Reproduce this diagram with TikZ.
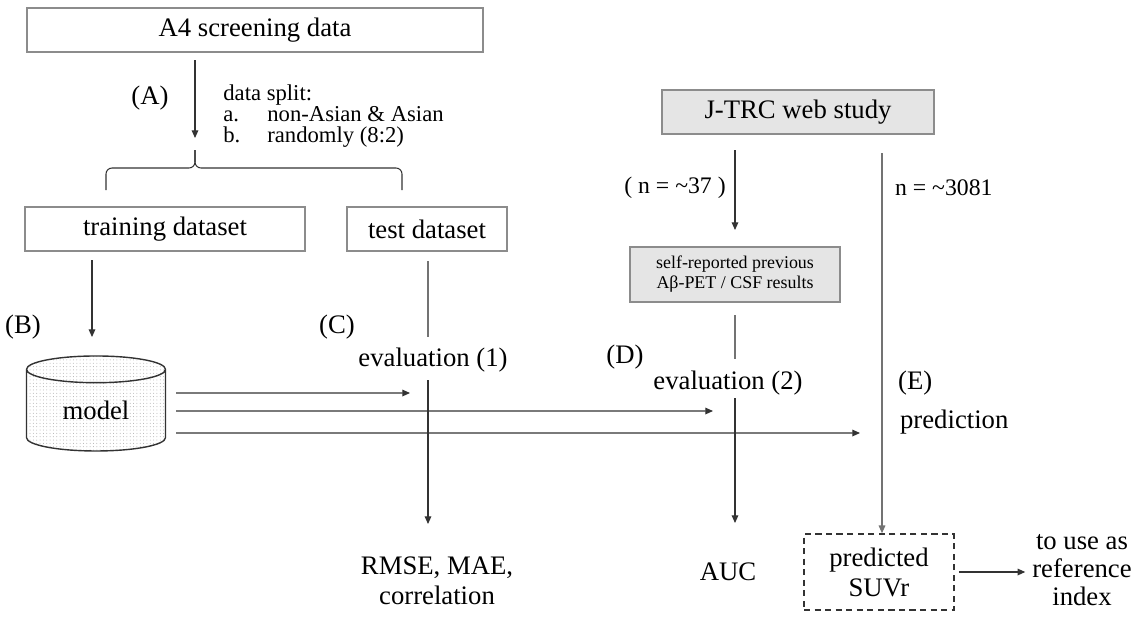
\documentclass[tikz,border=0pt]{standalone}
\usepackage{fontspec}
\setmainfont{Liberation Serif}
\usetikzlibrary{positioning, arrows.meta, calc, shapes.geometric, patterns.meta}
\newcommand{\mainsz}{\fontsize{15.2}{17}\selectfont}
\newcommand{\midsz}{\fontsize{12.9}{11.4}\selectfont}
\newcommand{\countsz}{\fontsize{13.5}{15}\selectfont}
\newcommand{\boxsz}{\fontsize{10.2}{11.3}\selectfont}
\definecolor{boxline}{gray}{0.55}
\definecolor{boxfill}{gray}{0.90}
\definecolor{flowcol}{gray}{0.20}
\tikzset{
  stagebox/.style={rectangle, draw=boxline, line width=0.8pt,
                   minimum height=0.88cm, inner sep=2pt, font=\mainsz},
  greybox/.style={stagebox, fill=boxfill},
  resultbox/.style={rectangle, draw=flowcol, line width=0.9pt,
                    dash pattern=on 3.5pt off 2.5pt, align=center,
                    minimum width=3.0cm, minimum height=1.52cm, font=\mainsz},
  dbnode/.style={cylinder, shape border rotate=90, aspect=0.4, draw=flowcol,
                 line width=0.8pt, minimum width=2.78cm, minimum height=1.9cm,
                 pattern={Dots[radius=0.28pt, distance=1.9pt]},
                 pattern color=black!32, font=\mainsz, inner sep=0pt},
  lbl/.style={font=\mainsz, align=center, inner sep=1pt},
  note/.style={font=\countsz, inner sep=1pt},
  arr/.style={-{Triangle[length=4.4pt, width=3.8pt]}, line width=0.6pt, flowcol},
  plain line/.style={line width=0.6pt, black!55},
  grey arr/.style={arr, black!55},
}
\begin{document}
\begin{tikzpicture}
    \useasboundingbox (0,0) rectangle (22.74,-12.34);

    % A4 branch
    \node[stagebox, minimum width=9.12cm] (a4) at (5.10,-0.60) {A4 screening data};
    \coordinate (a4out) at (3.90,-1.20);
    \coordinate (splitin) at (3.90,-2.76);
    \draw[arr] (a4out) -- (splitin);
    \node[lbl] (labA) at (3.00,-1.96) {(A)};
    \node[font=\midsz, anchor=north west, inner sep=0pt] (split) at (4.46,-1.68)
        {\begin{tabular}{@{}p{0.88cm}@{}l@{}}
         \multicolumn{2}{@{}l@{}}{data split:}\\
         a. & non-Asian \& Asian\\
         b. & randomly (8:2)
         \end{tabular}};

    % brace
    \draw[line width=0.6pt, flowcol, rounded corners=0.12cm] (2.12,-3.80) -- (2.12,-3.36) -- (3.90,-3.36) -- (3.90,-3.00);
    \draw[line width=0.6pt, flowcol, rounded corners=0.12cm] (3.90,-3.00) -- (3.90,-3.36) -- (8.04,-3.36) -- (8.04,-3.80);

    \node[stagebox, minimum width=5.60cm] (train) at (3.30,-4.58) {training dataset};
    \node[stagebox, minimum width=3.20cm] (test) at (8.54,-4.58) {test dataset};

    \coordinate (trainout) at (1.84,-5.20);
    \coordinate (modelin) at (1.84,-6.74);
    \draw[arr] (trainout) -- (modelin);
    \node[lbl] (labB) at (0.46,-6.54) {(B)};
    \node[dbnode] (model) at (1.92,-8.21) {model};

    % evaluation (1)
    \node[lbl] (labC) at (6.74,-6.54) {(C)};
    \node[lbl] (eval1) at (8.66,-7.20) {evaluation (1)};
    \coordinate (testout) at (8.56,-5.22);
    \coordinate (eval1top) at (8.56,-6.74);
    \draw[plain line] (testout) -- (eval1top);
    \coordinate (eval1bot) at (8.56,-7.60);
    \node[lbl] (rmse) at (8.74,-11.62) {RMSE, MAE,\\correlation};
    \coordinate (rmsein) at (8.56,-10.48);
    \draw[arr] (eval1bot) -- (rmsein);

    % J-TRC branch
    \node[greybox, minimum width=5.44cm] (jtrc) at (15.96,-2.24) {J-TRC web study};
    \coordinate (jtrcout) at (14.70,-3.00);
    \coordinate (selfin) at (14.70,-4.60);
    \draw[arr] (jtrcout) -- (selfin);
    \node[note] (n37) at (13.50,-3.76) {( n = \textasciitilde37 )};
    \node[greybox, font=\boxsz, align=center, minimum width=4.20cm, minimum height=1.10cm] (self) at (14.70,-5.49)
        {self-reported previous\\Aβ-PET / CSF results};

    \coordinate (selfout) at (14.70,-6.30);
    \coordinate (eval2top) at (14.70,-7.18);
    \draw[plain line] (selfout) -- (eval2top);
    \node[lbl] (labD) at (12.50,-7.14) {(D)};
    \node[lbl] (eval2) at (14.56,-7.66) {evaluation (2)};
    \coordinate (eval2bot) at (14.70,-7.96);
    \node[lbl] (auc) at (14.56,-11.44) {AUC};
    \coordinate (aucin) at (14.70,-10.46);
    \draw[arr] (eval2bot) -- (aucin);

    % prediction
    \coordinate (predtop) at (17.64,-3.06);
    \node[note, anchor=west] (n3081) at (17.86,-3.76) {n = \textasciitilde3081};
    \node[lbl, anchor=west] (labE) at (17.92,-7.66) {(E)};
    \node[lbl, anchor=west] (pred) at (17.96,-8.44) {prediction};
    \node[resultbox] (suvr) at (17.58,-11.44) {predicted\\SUVr};
    \draw[grey arr] (predtop) -- (suvr.north -| predtop);
    \node[lbl, font=\fontsize{15.2}{16}\selectfont] (useas) at (21.64,-11.40) {to use as\\reference\\index};
    \draw[arr] ([xshift=0.08cm]suvr.east) -- ([xshift=-0.1cm]useas.west |- suvr.east);

    % model outputs
    \coordinate (to eval1) at (8.20,-7.86);
    \coordinate (to eval2) at (14.26,-8.22);
    \coordinate (to pred) at (17.20,-8.66);
    \draw[arr] ($(model.east)+(0.20,0.35)$) -- (to eval1);
    \draw[arr] ($(model.east)+(0.20,-0.01)$) -- (to eval2);
    \draw[arr] ($(model.east)+(0.20,-0.45)$) -- (to pred);
\end{tikzpicture}
\end{document}
